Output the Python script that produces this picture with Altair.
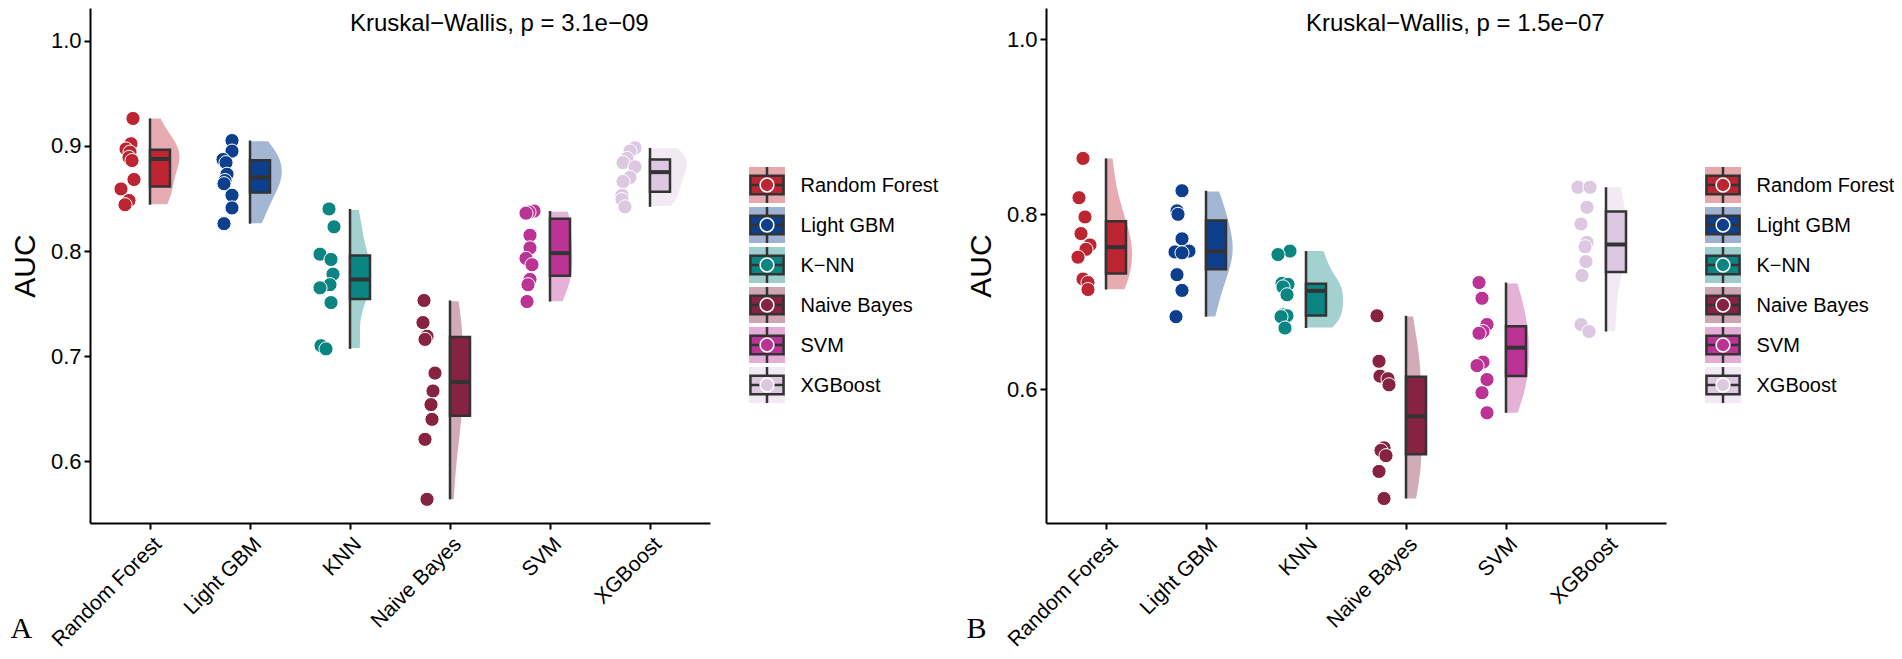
import json
import pandas as pd
import altair as alt

models = ["Random Forest", "Light GBM", "KNN", "Naive Bayes", "SVM", "XGBoost"]
legend_labels = ["Random Forest", "Light GBM", "K−NN", "Naive Bayes", "SVM", "XGBoost"]
colors = ["#BC2531", "#0E3F8C", "#0B8582", "#852340", "#BA3395", "#DCC8E0"]

# panel A: AUC per fold, and the horizontal jitter of each dot (in category units)
rf_a = [0.926, 0.902, 0.897, 0.894, 0.889, 0.886, 0.868, 0.859, 0.848, 0.844]
rf_a_off = [-0.17, -0.19, -0.24, -0.20, -0.21, -0.18, -0.16, -0.29, -0.21, -0.25]
lgbm_a = [0.905, 0.895, 0.887, 0.884, 0.873, 0.867, 0.864, 0.853, 0.841, 0.826]
lgbm_a_off = [-0.18, -0.18, -0.27, -0.24, -0.23, -0.25, -0.26, -0.18, -0.18, -0.26]
knn_a = [0.840, 0.823, 0.797, 0.792, 0.778, 0.768, 0.765, 0.751, 0.710, 0.707]
knn_a_off = [-0.21, -0.16, -0.30, -0.19, -0.17, -0.20, -0.30, -0.19, -0.29, -0.24]
nb_a = [0.753, 0.732, 0.719, 0.716, 0.684, 0.667, 0.654, 0.640, 0.621, 0.564]
nb_a_off = [-0.26, -0.27, -0.23, -0.25, -0.15, -0.17, -0.19, -0.18, -0.25, -0.23]
svm_a = [0.838, 0.837, 0.836, 0.815, 0.803, 0.793, 0.787, 0.773, 0.768, 0.752]
svm_a_off = [-0.16, -0.21, -0.24, -0.20, -0.20, -0.24, -0.18, -0.20, -0.22, -0.23]
xgb_a = [0.898, 0.895, 0.888, 0.884, 0.880, 0.870, 0.866, 0.853, 0.849, 0.842]
xgb_a_off = [-0.15, -0.20, -0.23, -0.27, -0.15, -0.20, -0.27, -0.28, -0.28, -0.25]

# panel B
rf_b = [0.864, 0.819, 0.797, 0.778, 0.765, 0.760, 0.751, 0.726, 0.722, 0.714]
rf_b_off = [-0.23, -0.27, -0.21, -0.25, -0.16, -0.20, -0.28, -0.23, -0.18, -0.18]
lgbm_b = [0.827, 0.804, 0.800, 0.772, 0.758, 0.757, 0.756, 0.731, 0.713, 0.683]
lgbm_b_off = [-0.24, -0.29, -0.28, -0.24, -0.17, -0.31, -0.24, -0.29, -0.24, -0.30]
knn_b = [0.758, 0.754, 0.721, 0.720, 0.717, 0.708, 0.685, 0.684, 0.683, 0.670]
knn_b_off = [-0.16, -0.28, -0.24, -0.18, -0.23, -0.19, -0.23, -0.19, -0.25, -0.21]
nb_b = [0.684, 0.632, 0.615, 0.612, 0.605, 0.533, 0.530, 0.524, 0.506, 0.475]
nb_b_off = [-0.29, -0.27, -0.26, -0.18, -0.17, -0.22, -0.25, -0.20, -0.27, -0.22]
svm_b = [0.722, 0.704, 0.674, 0.666, 0.664, 0.631, 0.627, 0.611, 0.596, 0.573]
svm_b_off = [-0.27, -0.24, -0.19, -0.23, -0.27, -0.23, -0.29, -0.19, -0.24, -0.19]
xgb_b = [0.831, 0.831, 0.808, 0.789, 0.768, 0.763, 0.746, 0.730, 0.674, 0.666]
xgb_b_off = [-0.28, -0.16, -0.19, -0.25, -0.19, -0.21, -0.20, -0.24, -0.25, -0.17]

kw_text = ["Kruskal−Wallis, p = 3.1e−09", "Kruskal−Wallis, p = 1.5e−07"]
kw_x = [3.0, 3.0]
kw_y = [1.0095, 1.0098]

FONT = "Liberation Sans"
DARK = "#333333"
PW, PH = 620, 515


def make_df(vals, offs):
    rows = []
    for i, m in enumerate(models):
        for v, o in zip(vals[i], offs[i]):
            rows.append({"model": m, "idx": i + 1, "auc": v, "off": o})
    return pd.DataFrame(rows)


df_a = make_df([rf_a, lgbm_a, knn_a, nb_a, svm_a, xgb_a],
               [rf_a_off, lgbm_a_off, knn_a_off, nb_a_off, svm_a_off, xgb_a_off])
df_b = make_df([rf_b, lgbm_b, knn_b, nb_b, svm_b, xgb_b],
               [rf_b_off, lgbm_b_off, knn_b_off, nb_b_off, svm_b_off, xgb_b_off])

cscale = alt.Scale(domain=models, range=colors)
xlabels = json.dumps(models)


def make_panel(df, ydom, yvals, k, letter):
    xs = alt.Scale(domain=[0.4, 6.6], nice=False, zero=False)
    ys = alt.Scale(domain=ydom, nice=False, zero=False)
    xax = alt.Axis(values=[1, 2, 3, 4, 5, 6], labelExpr=f"{xlabels}[datum.value - 1]",
                   labelAngle=-45, labelAlign="right", labelBaseline="top",
                   labelFontSize=21, labelFont=FONT, labelColor="black", labelPadding=4,
                   title=None, grid=False, domainColor="black", domainWidth=2,
                   tickColor="black", tickWidth=2, tickSize=6)
    yax = alt.Axis(values=yvals, format=".1f", labelFontSize=22, labelFont=FONT,
                   labelColor="black", labelPadding=3, title="AUC", titleFont=FONT,
                   titleFontSize=30, titleFontWeight="normal", titleColor="black",
                   titlePadding=10, grid=False, domainColor="black", domainWidth=2,
                   tickColor="black", tickWidth=2, tickSize=6)

    def X(f):
        return alt.X(f, type="quantitative", scale=xs, axis=xax)

    def Y(f):
        return alt.Y(f, type="quantitative", scale=ys, axis=yax)

    col = alt.Color("model:N", scale=cscale, legend=None)
    base = alt.Chart(df)

    # half violins, trimmed to each model's range
    violin = base.transform_joinaggregate(
        lo="min(auc)", hi="max(auc)", groupby=["model"]
    ).transform_density(
        "auc", as_=["auc", "dens"], groupby=["model", "idx", "lo", "hi"], steps=400
    ).transform_filter(
        "datum.auc >= datum.lo && datum.auc <= datum.hi"
    ).transform_joinaggregate(
        maxd="max(dens)"
    ).transform_calculate(
        vx="datum.idx + datum.dens / datum.maxd * 0.37"
    ).mark_area(orient="horizontal", opacity=0.38).encode(
        y=Y("auc"), x=X("vx"), x2="idx:Q", color=col
    )

    stats = base.transform_aggregate(
        q1="q1(auc)", q3="q3(auc)", med="median(auc)", lo="min(auc)", hi="max(auc)",
        groupby=["model", "idx"]
    ).transform_calculate(bx="datum.idx + 0.2")

    whisker = stats.mark_rule(color=DARK, strokeWidth=2.5).encode(
        x=X("idx"), y=Y("lo"), y2="hi:Q")
    box = stats.mark_rect(stroke=DARK, strokeWidth=2.5).encode(
        x=X("idx"), x2="bx:Q", y=Y("q1"), y2="q3:Q", color=col)
    median = stats.mark_rule(color=DARK, strokeWidth=4).encode(
        x=X("idx"), x2="bx:Q", y=Y("med"))

    dots = base.transform_calculate(px="datum.idx + datum.off").mark_point(
        filled=True, size=200, opacity=1, stroke="white", strokeWidth=1
    ).encode(x=X("px"), y=Y("auc"), color=col)

    label = alt.Chart(pd.DataFrame({"tx": [kw_x[k]], "ty": [kw_y[k]], "t": [kw_text[k]]})).mark_text(
        font=FONT, fontSize=24, color="black", align="left", baseline="alphabetic"
    ).encode(x=X("tx"), y=Y("ty"), text="t:N")

    return alt.layer(violin, whisker, box, median, dots, label).properties(
        width=PW, height=PH,
        title=alt.TitleParams(letter, orient="bottom", anchor="start", frame="bounds",
                              font="Liberation Serif", fontSize=30, fontWeight="normal",
                              color="black", offset=-36),
    )


def make_legend():
    ld = pd.DataFrame({"model": models, "row": list(range(6)), "kx": [0] * 6})
    ys = alt.Scale(domain=[-4.425, 8.45], reverse=True, nice=False, zero=False)
    xs = alt.Scale(domain=[-1, 1], nice=False, zero=False)
    lax = alt.Axis(orient="right", values=list(range(6)),
                   labelExpr=f"{json.dumps(legend_labels)}[datum.value]",
                   labelFontSize=20, labelFont=FONT, labelColor="black", labelPadding=15,
                   domain=False, ticks=False, grid=False, title=None)
    col = alt.Color("model:N", scale=cscale, legend=None)
    base = alt.Chart(ld).transform_calculate(
        r0="datum.row - 0.45", r1="datum.row + 0.45",
        b0="datum.row - 0.23", b1="datum.row + 0.23",
        x0="-0.92", x1="0.92")
    y = alt.Y("row:Q", scale=ys, axis=lax)
    bg = base.mark_square(size=1296, opacity=0.4).encode(
        x=alt.X("kx:Q", scale=xs, axis=None), y=y, color=col)
    wh = base.mark_rule(color=DARK, strokeWidth=2.5).encode(
        x=alt.X("kx:Q", scale=xs, axis=None), y=alt.Y("r0:Q", scale=ys, axis=lax), y2="r1:Q")
    bx = base.mark_rect(stroke=DARK, strokeWidth=2.5).encode(
        x=alt.X("x0:Q", scale=xs, axis=None), x2="x1:Q",
        y=alt.Y("b0:Q", scale=ys, axis=lax), y2="b1:Q", color=col)
    md = base.mark_rule(color=DARK, strokeWidth=2.5).encode(
        x=alt.X("x0:Q", scale=xs, axis=None), x2="x1:Q", y=y)
    pt = base.mark_point(filled=True, size=190, opacity=1, stroke="white", strokeWidth=1.5).encode(
        x=alt.X("kx:Q", scale=xs, axis=None), y=y, color=col)
    return alt.layer(bg, wh, bx, md, pt).properties(width=36, height=PH)


panel_a = make_panel(df_a, [0.5415, 1.031], [0.6, 0.7, 0.8, 0.9, 1.0], 0, "A")
panel_b = make_panel(df_b, [0.447, 1.036], [0.6, 0.8, 1.0], 1, "B")

chart = alt.hconcat(
    alt.hconcat(panel_a, make_legend(), spacing=39),
    alt.hconcat(panel_b, make_legend(), spacing=39),
    spacing=28,
).properties(
    padding={"left": 2, "top": 0, "right": 0, "bottom": 0}
).configure_view(stroke=None).configure_axis(grid=False)

chart.save("out.html", embed_options={"renderer": "svg", "actions": False})
